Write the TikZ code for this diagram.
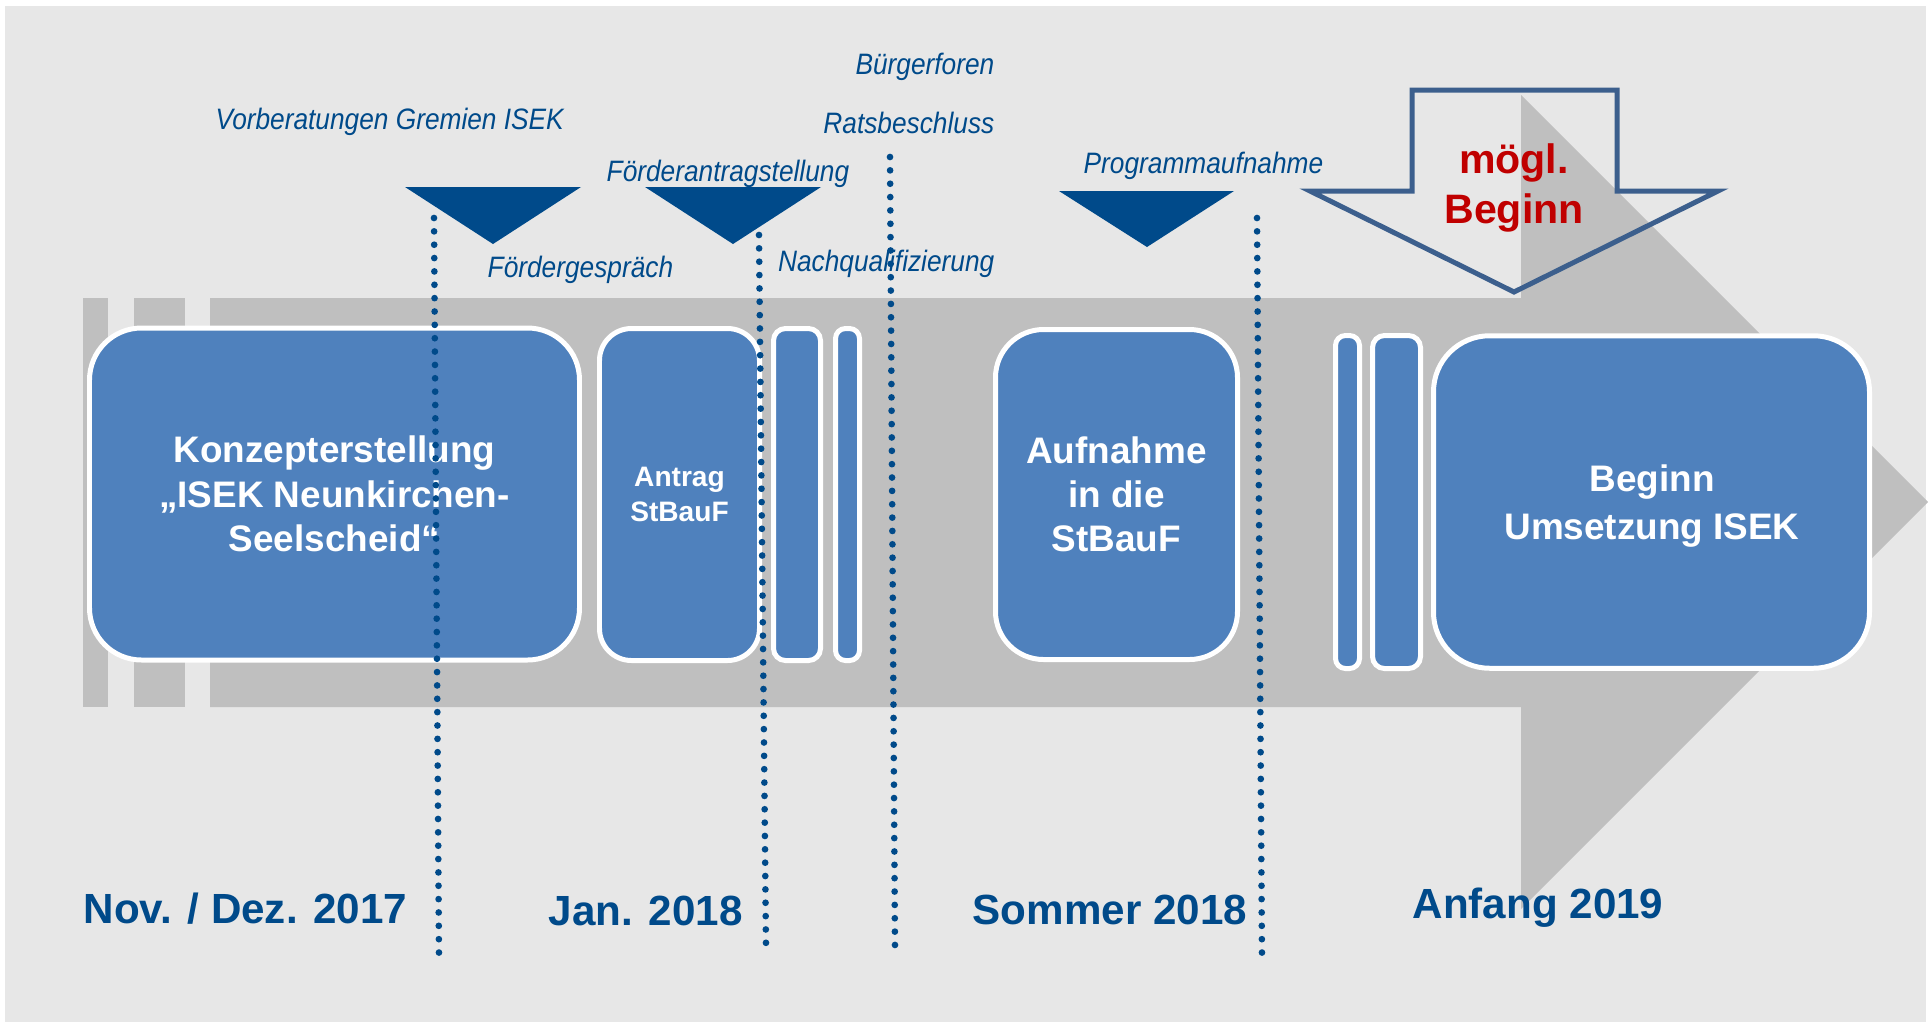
\documentclass[tikz,border=0pt]{standalone}
\usepackage{fontspec}
\setmainfont{Liberation Sans}
\newfontfamily\narrowfont[FakeStretch=0.89]{Liberation Sans}

\definecolor{bgGray}{HTML}{E7E7E7}
\definecolor{arrowGray}{HTML}{BFBFBF}
\definecolor{boxBlue}{HTML}{4F81BD}
\definecolor{darkBlue}{HTML}{004A8A}
\definecolor{outlineBlue}{HTML}{3C5F8D}
\definecolor{markRed}{HTML}{C00000}

\tikzset{
    phase/.style={fill=boxBlue, draw=white, line width=1.42pt, text=white, align=center,
        inner sep=0pt, font=\bfseries\fontsize{10.5}{12.6}\selectfont},
    milestone/.style={text=darkBlue, inner sep=0pt, font=\narrowfont\itshape\fontsize{8.4}{10}\selectfont},
    period/.style={text=darkBlue, inner sep=0pt, font=\bfseries\fontsize{12}{14}\selectfont},
    dotline/.style={darkBlue, line width=1.9pt, line cap=round, dash pattern=on 0pt off 3.8pt}
}

\begin{document}
\begin{tikzpicture}[scale=1.0]
    \useasboundingbox (0,0) rectangle (19.30,-10.24);

    % Background
    \fill[bgGray] (0.05,-0.06) rectangle (19.26,-10.22);

    % Timeline arrow
    \fill[arrowGray] (0.83,-2.98) rectangle (1.08,-7.07);
    \fill[arrowGray] (1.34,-2.98) rectangle (1.85,-7.07);
    \fill[arrowGray] (2.10,-2.98) -- (15.21,-2.98) -- (15.21,-0.95) -- (19.28,-5.02)
        -- (15.21,-9.09) -- (15.21,-7.07) -- (2.10,-7.07) -- cycle;

    % Phases
    \node[phase, minimum width=4.90cm, minimum height=3.32cm, rounded corners=0.52cm]
        (konzept) at (3.345,-4.94) {Konzepterstellung\\„ISEK Neunkirchen-\\Seelscheid“};
    \node[phase, minimum width=1.60cm, minimum height=3.32cm, rounded corners=0.32cm,
        font=\bfseries\fontsize{8}{10}\selectfont]
        (antrag) at (6.795,-4.945) {Antrag\\StBauF};
    \node[phase, minimum width=0.47cm, minimum height=3.32cm, rounded corners=0.12cm]
        (barA) at (7.97,-4.945) {};
    \node[phase, minimum width=0.24cm, minimum height=3.32cm, rounded corners=0.1cm]
        (barB) at (8.475,-4.945) {};
    \node[phase, minimum width=2.42cm, minimum height=3.30cm, rounded corners=0.48cm]
        (aufnahme) at (11.165,-4.945) {Aufnahme\\in die\\StBauF};
    \node[phase, minimum width=0.24cm, minimum height=3.33cm, rounded corners=0.1cm]
        (barC) at (13.475,-5.02) {};
    \node[phase, minimum width=0.48cm, minimum height=3.33cm, rounded corners=0.12cm]
        (barD) at (13.965,-5.02) {};
    \node[phase, minimum width=4.36cm, minimum height=3.325cm, rounded corners=0.56cm]
        (umsetzung) at (16.515,-5.02) {};
    \node[text=white, align=center, inner sep=0pt, font=\bfseries\fontsize{10.5}{13.4}\selectfont]
        (umsetzungText) at (16.52,-5.06) {Beginn\\Umsetzung ISEK};

    % Milestones
    \fill[darkBlue] (4.05,-1.87) -- (5.81,-1.87) -- (4.93,-2.44) -- cycle;
    \fill[darkBlue] (6.45,-1.87) -- (8.21,-1.87) -- (7.33,-2.44) -- cycle;
    \fill[darkBlue] (10.59,-1.91) -- (12.34,-1.91) -- (11.47,-2.47) -- cycle;

    \node[milestone, anchor=base west] (vorberatung) at (2.15,-1.29) {Vorberatungen Gremien ISEK};
    \node[milestone, anchor=base west] (foerdergespraech) at (4.87,-2.77) {Fördergespräch};
    \node[milestone, anchor=base west] (foerderantrag) at (6.06,-1.81) {Förderantragstellung};
    \node[milestone, anchor=base east] (buergerforen) at (9.95,-0.74) {Bürgerforen};
    \node[milestone, anchor=base east] (ratsbeschluss) at (9.95,-1.33) {Ratsbeschluss};
    \node[milestone, anchor=base east] (nachqual) at (9.95,-2.71) {Nachqualifizierung};
    \node[milestone, anchor=base west] (programm) at (10.83,-1.73) {Programmaufnahme};

    % Dotted separators
    \foreach \xa/\ya/\xb/\yb in {4.34/-2.18/4.39/-9.57, 7.59/-2.35/7.66/-9.47,
                                 8.90/-1.57/8.95/-9.48, 12.57/-2.18/12.62/-9.57}
        \draw[dotline] (\xa,\ya) -- (\xb,\yb);

    % Start arrow
    \draw[outlineBlue, line width=1.42pt, line join=miter]
        (14.12,-0.90) -- (16.17,-0.90) -- (16.17,-1.91) -- (17.18,-1.91)
        -- (15.14,-2.92) -- (13.10,-1.91) -- (14.12,-1.91) -- cycle;
    \node[text=markRed, align=center, inner sep=0pt, font=\bfseries\fontsize{11.7}{14.2}\selectfont]
        (moegl) at (15.14,-1.88) {mögl.\\Beginn};

    % Periods
    \node[period, anchor=base west] (nov) at (0.83,-9.23) {Nov. / Dez. 2017};
    \node[period, anchor=base west] (jan) at (5.48,-9.25) {Jan. 2018};
    \node[period, anchor=base west] (sommer) at (9.72,-9.24) {Sommer 2018};
    \node[period, anchor=base west] (anfang) at (14.12,-9.18) {Anfang 2019};

\end{tikzpicture}
\end{document}
